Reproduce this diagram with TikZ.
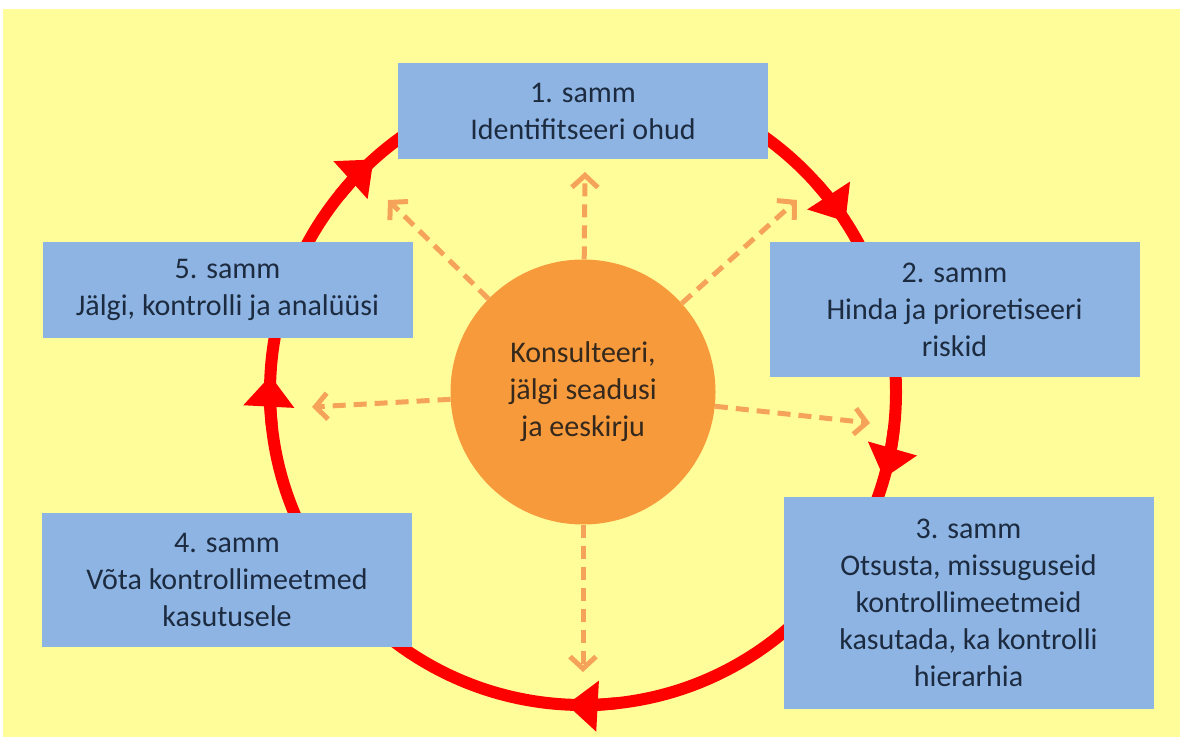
\documentclass[tikz,border=0pt]{standalone}
\usepackage{fontspec}
\setmainfont{Carlito}
\usetikzlibrary{arrows.meta,positioning,calc}

\definecolor{bgyellow}{HTML}{FFFD9A}
\definecolor{stepblue}{HTML}{8EB4E3}
\definecolor{hubfill}{HTML}{F79A3C}
\definecolor{dashorange}{HTML}{F6A35A}
\definecolor{textnavy}{HTML}{1C2B40}
\definecolor{textbrown}{HTML}{35281C}

\begin{document}
\begin{tikzpicture}[
  x=1pt, y=1pt,
  stepbox/.style={fill=stepblue, align=center, minimum width=370pt, inner sep=0pt,
    text=textnavy, font=\fontsize{30}{37}\selectfont},
  hubdisc/.style={circle, fill=hubfill, minimum size=265pt, align=center, inner sep=0pt,
    text=textbrown, font=\fontsize{30}{37}\selectfont},
  ring/.style={draw=red, line width=12pt},
  ringtip/.style={ring, -{Triangle[length=31pt, width=49pt]}},
  consult/.style={draw=dashorange, line width=5pt, dash pattern=on 13pt off 8pt,
    -{Straight Barb[length=12pt, width=26pt]}}
]
\useasboundingbox (0,0) rectangle (1180,740);
\fill[bgyellow] (3,3) rectangle (1180,731);

% red cycle
\coordinate (mid) at (583,348);
\draw[ring] (mid) circle[radius=313];
\foreach \a in {33,-16,-93,177,132}
  \draw[ringtip] ($(mid)+(\a+9:313)$) arc[start angle=\a+9, end angle=\a, radius=313];

% steps
\node[stepbox, minimum height=96pt] (s1) at (583,629) {1. samm\\Identifitseeri ohud};
\node[stepbox, minimum height=135pt] (s2) at (954.5,430.5) {2. samm\\Hinda ja prioretiseeri\\riskid};
\node[stepbox, minimum height=212pt] (s3) at (968.5,137) {3. samm\\Otsusta, missuguseid\\kontrollimeetmeid\\kasutada, ka kontrolli\\hierarhia};
\node[stepbox, minimum height=134pt] (s4) at (227,160) {4. samm\\Võta kontrollimeetmed\\kasutusele};
\node[stepbox, minimum height=96pt] (s5) at (227.5,450) {5. samm\\Jälgi, kontrolli ja analüüsi};

% centre
\node[hubdisc] (hub) at (mid) {Konsulteeri,\\jälgi seadusi\\ja eeskirju};

% dashed pointers
\coordinate (pUp) at (585,568);
\coordinate (pUpLeft) at (388,540);
\coordinate (pLeft) at (312,333);
\coordinate (pUpRight) at (797,540);
\coordinate (pRight) at (870,317);
\coordinate (pDown) at (583,68);
\foreach \p in {pUp,pUpLeft,pLeft,pUpRight,pRight,pDown}
  \draw[consult] (hub) -- (\p);
\end{tikzpicture}
\end{document}
